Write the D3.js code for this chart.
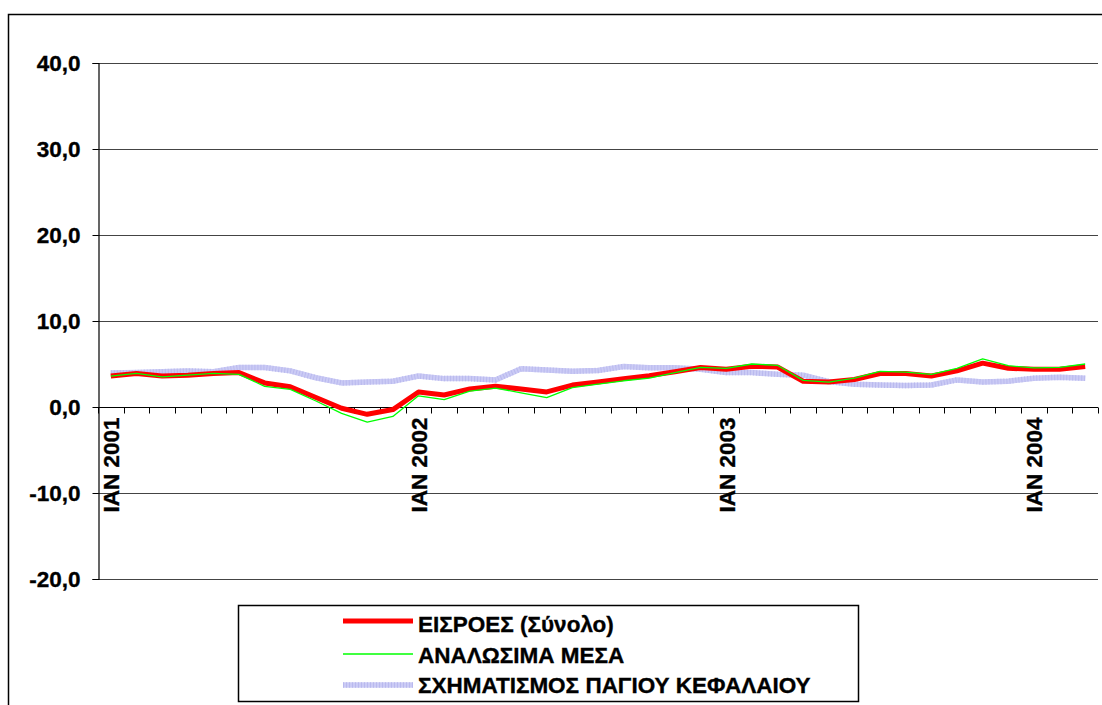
<!DOCTYPE html>
<html>
<head>
<meta charset="utf-8">
<script src="https://cdn.jsdelivr.net/npm/d3@7"></script>
<style>
  html, body { margin: 0; padding: 0; background: #fff; }
  svg { display: block; }
  text { font-family: "Liberation Sans", Arial, sans-serif; font-weight: bold; fill: #000; stroke: #000; stroke-width: 0.35px; }
</style>
</head>
<body>
<svg id="chart" width="1102" height="705"></svg>
<script>
// ---- data ----
const months = [
  "2001-01","2001-02","2001-03","2001-04","2001-05","2001-06","2001-07","2001-08","2001-09","2001-10","2001-11","2001-12",
  "2002-01","2002-02","2002-03","2002-04","2002-05","2002-06","2002-07","2002-08","2002-09","2002-10","2002-11","2002-12",
  "2003-01","2003-02","2003-03","2003-04","2003-05","2003-06","2003-07","2003-08","2003-09","2003-10","2003-11","2003-12",
  "2004-01","2004-02","2004-03"
];
const tickLabels = {"2001-01": "ΙΑΝ 2001", "2002-01": "ΙΑΝ 2002", "2003-01": "ΙΑΝ 2003", "2004-01": "ΙΑΝ 2004"};
const yTicks = [-20, -10, 0, 10, 20, 30, 40];

const seriesNames = ["ΕΙΣΡΟΕΣ (Σύνολο)", "ΑΝΑΛΩΣΙΜΑ ΜΕΣΑ", "ΣΧΗΜΑΤΙΣΜΟΣ ΠΑΓΙΟΥ ΚΕΦΑΛΑΙΟΥ"];
const eisroes = [3.6,3.9,3.6,3.7,3.9,4.0,2.8,2.35,1.1,-0.15,-0.85,-0.3,
                 1.75,1.4,2.1,2.4,2.1,1.75,2.55,2.9,3.3,3.65,4.1,4.6,
                 4.4,4.75,4.65,3.0,2.9,3.2,3.9,3.9,3.6,4.2,5.1,4.5,
                 4.4,4.4,4.7];
const analosima = [3.6,3.9,3.5,3.7,3.9,3.8,2.4,2.05,0.7,-0.75,-1.75,-1.1,
                   1.3,0.85,1.85,2.2,1.65,1.1,2.25,2.65,3.05,3.35,4.0,4.6,
                   4.5,5.0,4.85,3.1,2.9,3.35,4.15,4.05,3.8,4.5,5.6,4.8,
                   4.55,4.6,5.0];
const pagio = [3.95,4.0,4.1,4.2,4.1,4.6,4.6,4.2,3.4,2.8,2.9,3.0,
               3.6,3.3,3.3,3.15,4.45,4.3,4.15,4.25,4.7,4.55,4.55,4.4,
               4.0,4.0,3.8,3.7,2.95,2.65,2.55,2.5,2.55,3.15,2.9,3.0,
               3.35,3.45,3.35];

// ---- layout ----
const svg = d3.select("#chart");
const plotL = 98, plotR = 1098, plotT = 63, plotB = 579;
const FS = 22.5;

svg.append("rect").attr("width", 1102).attr("height", 705).attr("fill", "#fff");
// outer chart frame (extends beyond the window)
svg.append("rect").attr("x", 8.5).attr("y", 14.5).attr("width", 1200).attr("height", 800)
   .attr("fill", "none").attr("stroke", "#000").attr("stroke-width", 1.5);

const x = d3.scaleBand().domain(months).range([plotL, plotR]).paddingInner(0).paddingOuter(0);
const y = d3.scaleLinear().domain([-20, 40]).range([plotB, plotT]);

// gridlines
svg.append("g").selectAll("line").data(yTicks.filter(d => d !== 0)).join("line")
  .attr("x1", plotL).attr("x2", plotR)
  .attr("y1", d => Math.round(y(d)) + 0.5).attr("y2", d => Math.round(y(d)) + 0.5)
  .attr("stroke", "#444").attr("stroke-width", 1.2);

// y axis
const yAxis = d3.axisLeft(y).tickValues(yTicks).tickSize(6).tickPadding(12)
  .tickFormat(d => d3.format(".1f")(d).replace(".", ",").replace("\u2212", "-"));
const gy = svg.append("g").attr("transform", `translate(${plotL + 0.5},0)`).call(yAxis);
gy.select(".domain").attr("stroke", "#000").attr("stroke-width", 1.2);
gy.selectAll(".tick line").attr("stroke", "#000");
gy.selectAll(".tick text").attr("font-size", FS).attr("font-family", '"Liberation Sans", Arial, sans-serif')
  .attr("font-weight", "bold").attr("fill", "#000");

// x axis at zero: tick marks at category boundaries
const y0 = Math.round(y(0)) + 0.5;
svg.append("line").attr("x1", plotL).attr("x2", plotR).attr("y1", y0).attr("y2", y0)
  .attr("stroke", "#000").attr("stroke-width", 1.2);
const boundaries = months.map(m => x(m)).concat([x(months[months.length - 1]) + x.bandwidth()]);
svg.append("g").selectAll("line").data(boundaries).join("line")
  .attr("x1", d => Math.round(d) + 0.5).attr("x2", d => Math.round(d) + 0.5)
  .attr("y1", y0).attr("y2", y0 + 6).attr("stroke", "#000").attr("stroke-width", 1);

// x tick labels (rotated)
svg.append("g").selectAll("text").data(months.filter(m => tickLabels[m])).join("text")
  .attr("transform", m => `translate(${x(m) + x.bandwidth() / 2 + 8.5},${y0 + 10}) rotate(-90)`)
  .attr("text-anchor", "end")
  .attr("font-size", FS)
  .text(m => tickLabels[m]);

// lines
const line = d3.line().x((d, i) => x(months[i]) + x.bandwidth() / 2).y(d => y(d));
svg.append("path").datum(pagio).attr("d", line).attr("fill", "none")
  .attr("stroke", "#cbcbf5").attr("stroke-width", 5.5).attr("stroke-linejoin", "round");
svg.append("path").datum(pagio).attr("d", line).attr("fill", "none")
  .attr("stroke", "#b9b9ee").attr("stroke-width", 5.5).attr("stroke-dasharray", "1,2");
svg.append("path").datum(eisroes).attr("d", line).attr("fill", "none")
  .attr("stroke", "#ff0000").attr("stroke-width", 5).attr("stroke-linejoin", "round");
svg.append("path").datum(analosima).attr("d", line).attr("fill", "none")
  .attr("stroke", "#00ff00").attr("stroke-width", 1.3).attr("stroke-linejoin", "round");

// legend
const lg = svg.append("g");
lg.append("rect").attr("x", 238.5).attr("y", 605.5).attr("width", 620).attr("height", 96)
  .attr("fill", "#fff").attr("stroke", "#000").attr("stroke-width", 1.5);
const legendItems = [
  {name: seriesNames[0], color: "#ff0000", w: 5, ly: 621, ty: 632},
  {name: seriesNames[1], color: "#00ff00", w: 1.5, ly: 654, ty: 663},
  {name: seriesNames[2], color: "#cbcbf5", w: 5.5, ly: 685, ty: 693}
];
legendItems.forEach((it, i) => {
  lg.append("line").attr("x1", 343).attr("x2", 413).attr("y1", it.ly).attr("y2", it.ly)
    .attr("stroke", it.color).attr("stroke-width", it.w);
  if (i === 2) {
    lg.append("line").attr("x1", 343).attr("x2", 413).attr("y1", it.ly).attr("y2", it.ly)
      .attr("stroke", "#b9b9ee").attr("stroke-width", it.w).attr("stroke-dasharray", "1,2");
  }
  lg.append("text").attr("x", 418).attr("y", it.ty).attr("font-size", FS).text(it.name);
});
</script>
</body>
</html>
